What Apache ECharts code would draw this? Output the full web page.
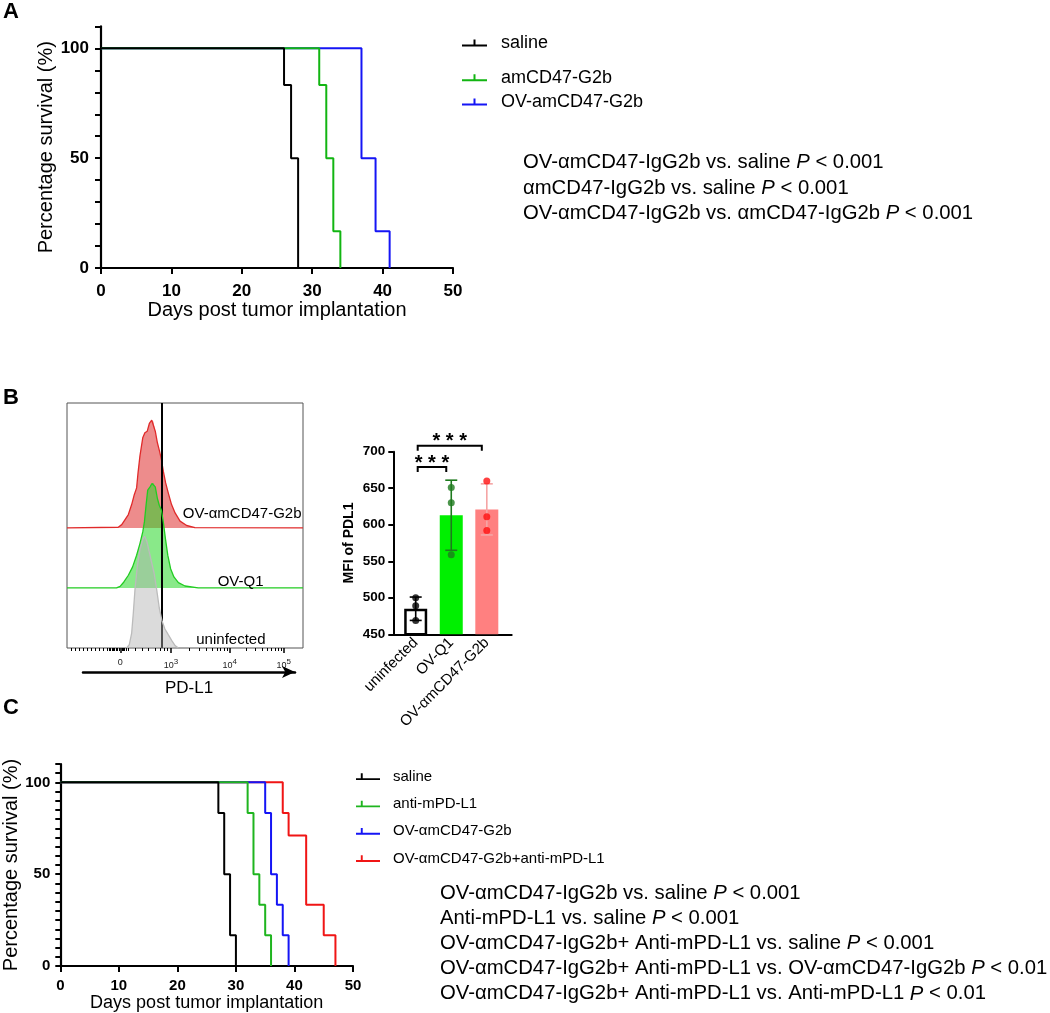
<!DOCTYPE html>
<html><head><meta charset="utf-8">
<script src="https://cdn.jsdelivr.net/npm/echarts@6/dist/echarts.min.js"></script>
<style>html,body{margin:0;padding:0;background:#fff}#c{width:1050px;height:1013px}</style>
</head><body><div id="c"></div>
<script>
const FONT = '"Liberation Sans", Arial, Helvetica, sans-serif';

// ---------- Panel A : survival ----------
const aNames = ['saline', 'amCD47-G2b', 'OV-amCD47-G2b'];
const aSalineDays = [0, 26, 27, 28];
const aSalineSurv = [100, 83.3, 50, 0];
const aCD47Days = [0, 31, 32, 33, 34];
const aCD47Surv = [100, 83.3, 50, 16.7, 0];
const aOVDays = [0, 37, 39, 41];
const aOVSurv = [100, 50, 16.7, 0];
const aStats = [
  ['OV-αmCD47-IgG2b vs. saline ', '< 0.001'],
  ['αmCD47-IgG2b vs. saline ', '< 0.001'],
  ['OV-αmCD47-IgG2b vs. αmCD47-IgG2b ', '< 0.001']
];

// ---------- Panel C : survival ----------
const cNames = ['saline', 'anti-mPD-L1', 'OV-αmCD47-G2b', 'OV-αmCD47-G2b+anti-mPD-L1'];
const cSalineDays = [0, 27, 28, 29, 30];
const cSalineSurv = [100, 83.3, 50, 16.7, 0];
const cAntiDays = [0, 32, 33, 34, 35, 36];
const cAntiSurv = [100, 83.3, 50, 33.3, 16.7, 0];
const cOVDays = [0, 35, 36, 37, 38, 39];
const cOVSurv = [100, 83.3, 50, 33.3, 16.7, 0];
const cComboDays = [0, 38, 39, 42, 45, 47];
const cComboSurv = [100, 83.3, 71, 33.3, 16.7, 0];
const cStats = [
  ['OV-αmCD47-IgG2b vs. saline ', '< 0.001'],
  ['Anti-mPD-L1 vs. saline ', '< 0.001'],
  ['OV-αmCD47-IgG2b+ Anti-mPD-L1 vs. saline ', '< 0.001'],
  ['OV-αmCD47-IgG2b+ Anti-mPD-L1 vs. OV-αmCD47-IgG2b ', '< 0.01'],
  ['OV-αmCD47-IgG2b+ Anti-mPD-L1 vs. Anti-mPD-L1 ', '< 0.01']
];
const kmYLabelValues = [0, 50, 100];

// ---------- Panel B : histogram (channel units 0-1000, % of mode) ----------
const histRedX = [0, 217, 232, 246, 260, 274, 284, 295, 301, 309, 321, 330, 340, 349, 359, 366, 374, 383, 391, 400, 408, 418, 429, 443, 458, 479, 507, 542, 1000];
const histRedY = [0, 0.6, 3, 7.7, 12.3, 21.5, 29.8, 36.9, 50.8, 66.2, 83.1, 87.7, 89.2, 96.3, 99.4, 98.2, 89.2, 78.5, 71.7, 63.1, 52.3, 41.5, 32.3, 21.5, 13.8, 6.2, 2.2, 0.3, 0];
const histGreenX = [0, 210, 225, 241, 260, 278, 295, 309, 321, 328, 335, 342, 352, 360, 367, 374, 383, 391, 400, 408, 417, 427, 439, 453, 472, 500, 556, 1000];
const histGreenY = [0, 0, 1.5, 5.5, 11.7, 19.4, 30.2, 40.9, 51.7, 60.9, 76.3, 90.2, 93.2, 96.3, 96.9, 93.2, 82.5, 76.3, 71.7, 60.9, 45.5, 30.2, 17.8, 10.2, 4.9, 1.8, 0, 0];
const histGrayX = [253, 264, 274, 281, 288, 298, 309, 321, 329, 338, 348, 359, 369, 380, 391, 403, 415, 429, 444, 458, 472];
const histGrayY = [0, 3.1, 13.8, 32.3, 53.8, 75.4, 90.8, 100, 103.1, 98.5, 89.2, 78.5, 69.2, 53.8, 36.9, 24.6, 17.5, 12.3, 6.8, 2.2, 0];
const histOffsets = [0, 55.4, 110.8]; // uninfected, OV-Q1, OV-amCD47 track baselines
const histLabels = ['uninfected', 'OV-Q1', 'OV-αmCD47-G2b'];
const gatePos = 403;
const histMajorTicks = [226, 441, 690, 918];
const histMajorLabels = ['0', '10^3', '10^4', '10^5'];
const histNegTicks = [17, 34, 51, 68, 85, 102, 119, 136, 153, 170, 178, 184, 190, 196, 202, 208, 214, 220, 232, 238, 244, 250, 258, 288, 318, 343, 373, 394, 411, 424];

// ---------- Panel B : bars ----------
const bCats = ['uninfected', 'OV-Q1', 'OV-αmCD47-G2b'];
const bMeans = [485, 613, 621];
const bSD = [16, 48, 35];
const bDots = [[500, 489, 469], [651, 630, 559], [660, 611, 592]];
const sigBrackets = [[0, 1, 679, '* * *'], [0, 2, 708, '* * *']];

// ---------- derived helpers ----------
const decadeMinor = [];
for (let d = 0; d < 2; d++) {
  const a = histMajorTicks[d + 1], b = histMajorTicks[d + 2];
  for (let k = 2; k <= 9; k++) decadeMinor.push(a + (b - a) * Math.log10(k));
}
const histMinorTicks = histNegTicks.concat(decadeMinor);

const pairs = (xs, ys, off) => xs.map((x, i) => [x, ys[i] + (off || 0)]);

function kmSeries(name, days, surv, color, xi, yi, z) {
  return {
    type: 'line', name, xAxisIndex: xi, yAxisIndex: yi, step: 'end', showSymbol: false,
    data: pairs(days, surv), lineStyle: { color, width: 2 }, itemStyle: { color },
    animation: false, silent: true, z
  };
}

function histFill(xs, ys, off, fill, z) {
  return {
    type: 'custom', xAxisIndex: 2, yAxisIndex: 2, silent: true, animation: false, z,
    data: [[xs[0], off]],
    renderItem: (params, api) => {
      const pts = xs.map((x, i) => api.coord([x, ys[i] + off]));
      pts.unshift(api.coord([xs[0], off]));
      pts.push(api.coord([xs[xs.length - 1], off]));
      return { type: 'polygon', shape: { points: pts }, style: { fill, stroke: null } };
    }
  };
}
function histLine(xs, ys, off, color, z, extra) {
  return Object.assign({
    type: 'line', xAxisIndex: 2, yAxisIndex: 2, showSymbol: false, silent: true, animation: false, z,
    data: pairs(xs, ys, off), lineStyle: { color, width: 1.3 }, itemStyle: { color }
  }, extra || {});
}

const kmAxisCommon = {
  axisLine: { show: true, onZero: false, lineStyle: { color: '#000', width: 2.2 } },
  axisTick: { show: true, length: 6, lineStyle: { color: '#000', width: 2 } },
  splitLine: { show: false }
};

const statRich = lh => ({
  n: { fontSize: 20.3, fontWeight: 'normal', color: '#000', fontFamily: FONT, lineHeight: lh },
  i: { fontSize: 20.3, fontWeight: 'normal', fontStyle: 'italic', color: '#000', fontFamily: FONT, lineHeight: lh }
});

const blk = '#000';
const legendIconA = 'path://M0,5L25,5L25,7L0,7Z M11.5,0L13.5,0L13.5,5L11.5,5Z';
const legendTextA = { fontSize: 18, color: '#000', lineHeight: 20, padding: [0, 0, 0, 9], fontFamily: FONT };

const option = {
  backgroundColor: '#fff',
  animation: false,
  textStyle: { fontFamily: FONT },
  grid: [
    { left: 101, top: 26.4, width: 352, height: 241.6 },         // 0 A
    { left: 60.3, top: 764, width: 292.7, height: 202 },         // 1 C
    { left: 67, top: 403, width: 236, height: 245, show: true, borderColor: '#555', borderWidth: 1, backgroundColor: 'transparent' }, // 2 hist
    { left: 83, top: 670, width: 212, height: 2 },               // 3 arrow
    { left: 393.3, top: 451.7, width: 118.4, height: 182.6 }     // 4 bars
  ],
  xAxis: [
    Object.assign({}, kmAxisCommon, {
      gridIndex: 0, type: 'value', min: 0, max: 50, interval: 10,
      axisLabel: { color: blk, fontSize: 17, fontWeight: 'bold', margin: 15, fontFamily: FONT },
      name: 'Days post tumor implantation', nameLocation: 'middle', nameGap: 32,
      nameTextStyle: { color: blk, fontSize: 20, fontFamily: FONT }
    }),
    Object.assign({}, kmAxisCommon, {
      gridIndex: 1, type: 'value', min: 0, max: 50, interval: 10,
      axisLabel: { color: blk, fontSize: 15, fontWeight: 'bold', margin: 12, fontFamily: FONT },
      name: 'Days post tumor implantation', nameLocation: 'middle', nameGap: 27,
      nameTextStyle: { color: blk, fontSize: 18, fontFamily: FONT }
    }),
    { // hist major ticks + labels
      gridIndex: 2, type: 'value', min: 0, max: 1000, position: 'bottom',
      axisLine: { show: false }, splitLine: { show: false },
      axisTick: { show: true, customValues: histMajorTicks, length: 5, lineStyle: { color: '#000', width: 1.5 } },
      axisLabel: {
        show: true, customValues: histMajorTicks, margin: 10, color: '#222', fontSize: 9, fontFamily: FONT,
        formatter: v => {
          const s = histMajorLabels[histMajorTicks.indexOf(v)] || '';
          if (s.indexOf('^') < 0) return s;
          const p = s.split('^');
          return '{b|' + p[0] + '}{s|' + p[1] + '}';
        },
        rich: { b: { fontSize: 9, color: '#222', fontFamily: FONT }, s: { fontSize: 8, color: '#222', verticalAlign: 'top', padding: [0, 0, 7, 0], fontFamily: FONT } }
      }
    },
    { // hist minor ticks
      gridIndex: 2, type: 'value', min: 0, max: 1000, position: 'bottom',
      axisLine: { show: false }, splitLine: { show: false }, axisLabel: { show: false },
      axisTick: { show: true, customValues: histMinorTicks, length: 3, lineStyle: { color: '#000', width: 1 } }
    },
    { // arrow axis
      gridIndex: 3, type: 'value', min: 0, max: 1, position: 'bottom',
      axisLine: { show: true, symbol: ['none', 'arrow'], symbolSize: [9, 13], lineStyle: { color: '#000', width: 2.5 } },
      axisTick: { show: false }, axisLabel: { show: false }, splitLine: { show: false },
      name: 'PD-L1', nameLocation: 'middle', nameGap: 8,
      nameTextStyle: { color: '#000', fontSize: 17, fontFamily: FONT }
    },
    { // bar chart x
      gridIndex: 4, type: 'value', min: 0.37, max: 3.7,
      axisLine: { show: true, onZero: false, lineStyle: { color: '#000', width: 2 } },
      axisTick: { show: false }, splitLine: { show: false },
      axisLabel: {
        customValues: [1, 2, 3], rotate: 45, margin: 6, color: '#000', fontSize: 15, fontFamily: FONT,
        formatter: v => bCats[Math.round(v) - 1] || ''
      }
    }
  ],
  yAxis: [
    Object.assign({}, kmAxisCommon, {
      gridIndex: 0, type: 'value', min: 0, max: 110, interval: 10,
      axisLabel: { color: blk, fontSize: 17, fontWeight: 'bold', margin: 12, fontFamily: FONT,
        formatter: v => kmYLabelValues.indexOf(v) >= 0 ? String(v) : '' },
      name: 'Percentage survival (%)', nameLocation: 'middle', nameGap: 41,
      nameTextStyle: { color: blk, fontSize: 20, fontFamily: FONT }
    }),
    Object.assign({}, kmAxisCommon, {
      gridIndex: 1, type: 'value', min: 0, max: 110, interval: 5,
      axisTick: { show: true, length: 5, lineStyle: { color: '#000', width: 2 } },
      axisLabel: { color: blk, fontSize: 15, fontWeight: 'bold', margin: 10, fontFamily: FONT,
        formatter: v => kmYLabelValues.indexOf(v) >= 0 ? String(v) : '' },
      name: 'Percentage survival (%)', nameLocation: 'middle', nameGap: 36,
      nameTextStyle: { color: blk, fontSize: 20, fontFamily: FONT }
    }),
    { gridIndex: 2, type: 'value', min: 0, max: 226, show: false },
    { gridIndex: 3, type: 'value', min: 0, max: 1, show: false },
    {
      gridIndex: 4, type: 'value', min: 450, max: 700, interval: 50,
      axisLine: { show: true, lineStyle: { color: '#000', width: 2 } },
      axisTick: { show: true, length: 5, lineStyle: { color: '#000', width: 2 } },
      splitLine: { show: false },
      axisLabel: { color: '#000', fontSize: 13.5, fontWeight: 'bold', margin: 8, fontFamily: FONT },
      name: 'MFI of PDL1', nameLocation: 'middle', nameGap: 37,
      nameTextStyle: { color: '#000', fontSize: 14, fontWeight: 'bold', fontFamily: FONT }
    }
  ],
  legend: [
    { data: [aNames[0]], left: 462, top: 33, orient: 'vertical', padding: 0, itemWidth: 25, itemHeight: 7,
      icon: legendIconA, selectedMode: false, textStyle: legendTextA },
    { data: [aNames[1]], left: 462, top: 67.7, orient: 'vertical', padding: 0, itemWidth: 25, itemHeight: 7,
      icon: legendIconA, selectedMode: false, textStyle: legendTextA },
    { data: [aNames[2]], left: 462, top: 92, orient: 'vertical', padding: 0, itemWidth: 25, itemHeight: 7,
      icon: legendIconA, selectedMode: false, textStyle: legendTextA },
    { data: cNames, left: 356, top: 767.7, orient: 'vertical', padding: 0, itemGap: 9.3, itemWidth: 24, itemHeight: 7,
      icon: 'path://M0,5L25,5L25,7L0,7Z M5,0L7,0L7,5L5,5Z', selectedMode: false,
      textStyle: { fontSize: 15, color: '#000', lineHeight: 18, padding: [0, 0, 0, 8], fontFamily: FONT } }
  ],
  title: [
    { left: 523, top: 150, padding: 0,
      text: aStats.map(s => '{n|' + s[0] + '}{i|P}{n| ' + s[1] + '}').join('\n'),
      textStyle: { fontWeight: 'normal', rich: statRich(25.5) } },
    { left: 440, top: 880.5, padding: 0,
      text: cStats.map(s => '{n|' + s[0] + '}{i|P}{n| ' + s[1] + '}').join('\n'),
      textStyle: { fontWeight: 'normal', rich: statRich(25.2) } }
  ],
  graphic: [
    { type: 'text', left: 3, top: 1, style: { text: 'A', font: 'bold 22px ' + FONT, fill: '#000' } },
    { type: 'text', left: 3, top: 387, style: { text: 'B', font: 'bold 22px ' + FONT, fill: '#000' } },
    { type: 'text', left: 3, top: 697, style: { text: 'C', font: 'bold 22px ' + FONT, fill: '#000' } },
    { type: 'text', right: 1050 - 301.5, top: 506, z: 10, style: { text: histLabels[2], font: '15px ' + FONT, fill: '#000' } },
    { type: 'text', right: 1050 - 263.5, top: 574, z: 10, style: { text: histLabels[1], font: '15px ' + FONT, fill: '#000' } },
    { type: 'text', right: 1050 - 265.5, top: 632, z: 10, style: { text: histLabels[0], font: '15px ' + FONT, fill: '#000' } }
  ],
  series: [
    kmSeries(aNames[0], aSalineDays, aSalineSurv, '#000000', 0, 0, 6),
    kmSeries(aNames[1], aCD47Days, aCD47Surv, '#12b512', 0, 0, 5),
    kmSeries(aNames[2], aOVDays, aOVSurv, '#1515f5', 0, 0, 4),

    kmSeries(cNames[0], cSalineDays, cSalineSurv, '#000000', 1, 1, 7),
    kmSeries(cNames[1], cAntiDays, cAntiSurv, '#1fb51f', 1, 1, 6),
    kmSeries(cNames[2], cOVDays, cOVSurv, '#1515f5', 1, 1, 5),
    kmSeries(cNames[3], cComboDays, cComboSurv, '#f01515', 1, 1, 4),

    histFill(histRedX, histRedY, histOffsets[2], 'rgba(222,45,45,0.55)', 2),
    histLine(histRedX, histRedY, histOffsets[2], '#e02a2a', 3),
    histFill(histGreenX, histGreenY, histOffsets[1], 'rgba(40,215,40,0.55)', 4),
    histLine(histGreenX, histGreenY, histOffsets[1], '#22cc22', 5),
    histFill(histGrayX, histGrayY, histOffsets[0], 'rgba(175,175,175,0.45)', 6),
    histLine(histGrayX, histGrayY, histOffsets[0], '#bbbbbb', 7, {
      markLine: { silent: true, symbol: ['none', 'none'], label: { show: false }, animation: false,
        lineStyle: { color: '#000', width: 2, type: 'solid' }, data: [{ xAxis: gatePos }] }
    }),

    { // bars
      type: 'bar', xAxisIndex: 5, yAxisIndex: 4, barWidth: 23, silent: true, animation: false, z: 2,
      data: bMeans.map((m, i) => ({
        value: [i + 1, m],
        itemStyle: [
          { color: '#ffffff', borderColor: '#000', borderWidth: 2.5 },
          { color: '#00f000' },
          { color: '#ff8080' }
        ][i]
      }))
    },
    { // error bars
      type: 'custom', xAxisIndex: 5, yAxisIndex: 4, silent: true, animation: false, z: 4,
      data: bMeans.map((m, i) => [i + 1, m, bSD[i]]),
      renderItem: (params, api) => {
        const cols = ['#000000', '#1e7a1e', '#f5a5a5'];
        const c = cols[params.dataIndex];
        const x = api.value(0), m = api.value(1), s = api.value(2);
        const t = api.coord([x, m + s]), b = api.coord([x, m - s]);
        const w = 6, st = { stroke: c, lineWidth: 1.6 };
        return { type: 'group', children: [
          { type: 'line', shape: { x1: t[0], y1: t[1], x2: b[0], y2: b[1] }, style: st },
          { type: 'line', shape: { x1: t[0] - w, y1: t[1], x2: t[0] + w, y2: t[1] }, style: st },
          { type: 'line', shape: { x1: b[0] - w, y1: b[1], x2: b[0] + w, y2: b[1] }, style: st }
        ] };
      }
    },
    { type: 'scatter', xAxisIndex: 5, yAxisIndex: 4, symbolSize: 7, silent: true, z: 5,
      itemStyle: { color: '#000' }, data: bDots[0].map(v => [1, v]) },
    { type: 'scatter', xAxisIndex: 5, yAxisIndex: 4, symbolSize: 7, silent: true, z: 5,
      itemStyle: { color: '#1e7a1e' }, data: bDots[1].map(v => [2, v]) },
    { type: 'scatter', xAxisIndex: 5, yAxisIndex: 4, symbolSize: 7, silent: true, z: 5,
      itemStyle: { color: '#ff1010' }, data: bDots[2].map(v => [3, v]) },
    { // significance brackets
      type: 'custom', xAxisIndex: 5, yAxisIndex: 4, silent: true, animation: false, clip: false, z: 6,
      data: sigBrackets.map(s => [s[0] + 1, s[2]]),
      renderItem: (params, api) => {
        const s = sigBrackets[params.dataIndex];
        const p1 = api.coord([s[0] + 1, s[2]]), p2 = api.coord([s[1] + 1, s[2]]);
        const x1 = p1[0] + 2, x2 = p2[0] - 5, y = p1[1];
        return { type: 'group', children: [
          { type: 'polyline', shape: { points: [[x1, y + 5], [x1, y], [x2, y], [x2, y + 5]] },
            style: { stroke: '#000', lineWidth: 2, fill: null } },
          { type: 'text', style: { text: s[3], x: (x1 + x2) / 2, y: y + 6, align: 'center', verticalAlign: 'bottom',
            font: 'bold 20px ' + FONT, fill: '#000' } }
        ] };
      }
    }
  ]
};

const chart = echarts.init(document.getElementById('c'), null, { renderer: 'canvas' });
chart.setOption(option);
</script>
</body></html>
